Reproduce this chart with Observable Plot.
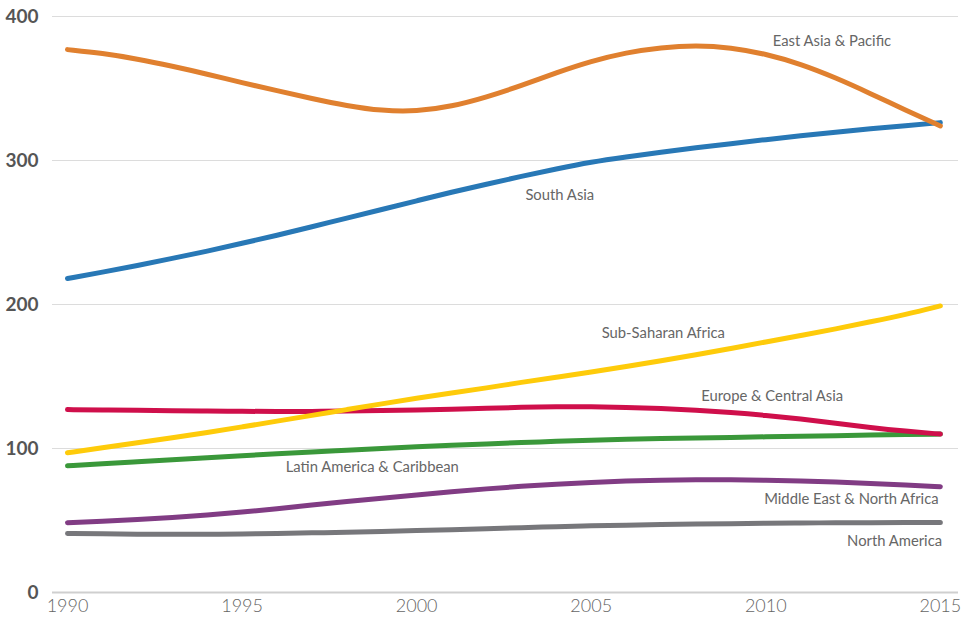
<!DOCTYPE html>
<html>
<head>
<meta charset="utf-8">
<script src="https://cdn.jsdelivr.net/npm/d3@7"></script>
<script src="https://cdn.jsdelivr.net/npm/@observablehq/plot@0.6"></script>
<style>
  html, body { margin: 0; padding: 0; background: #fff; }
  #chart { width: 964px; height: 618px; }
  svg { font-family: Lato, "Noto Sans", sans-serif; }
</style>
</head>
<body>
<div id="chart"></div>
<script>
const years = d3.range(1990, 2016);

const eastAsiaPacific = [377, 374.5, 370.5, 365.5, 360, 354, 348.5, 343, 338, 334.5, 334, 337.5, 344, 352, 361, 369, 375, 378.5, 380, 378.5, 374, 367, 357.5, 346.5, 335, 324];
const southAsia = [218, 222.5, 227, 232, 237, 242.5, 248, 254, 260, 266, 272, 278, 283.5, 289, 294.2, 299, 302.5, 305.8, 308.8, 311.7, 314.5, 317.2, 319.7, 322, 324.2, 326.3];
const subSaharanAfrica = [97, 100.5, 104, 107.5, 111, 115, 119, 123, 127, 131, 135, 138.5, 142, 146, 149.5, 153, 157, 161, 165, 169.5, 174, 178.5, 183, 188, 193, 199];
const europeCentralAsia = [127, 126.8, 126.5, 126.3, 126, 125.8, 125.7, 125.7, 126, 126.3, 126.7, 127.3, 128, 128.6, 129, 129, 128.6, 127.8, 126.6, 125, 123, 120.5, 117.5, 114.5, 112, 110];
const latinAmerica = [88, 89.5, 90.8, 92.2, 93.6, 95, 96.3, 97.6, 98.8, 100, 101.2, 102.2, 103.2, 104.1, 105, 105.8, 106.4, 106.9, 107.3, 107.7, 108.1, 108.5, 108.9, 109.3, 109.7, 110];
const middleEastNorthAfrica = [48.5, 49.5, 50.6, 52, 53.7, 55.8, 58.2, 60.7, 63.2, 65.5, 67.8, 70, 72, 73.8, 75.3, 76.5, 77.4, 78, 78.3, 78.3, 78, 77.5, 76.7, 75.7, 74.6, 73.5];
const northAmerica = [41, 40.7, 40.5, 40.4, 40.4, 40.6, 41, 41.4, 41.9, 42.4, 43, 43.6, 44.3, 45, 45.7, 46.3, 46.8, 47.2, 47.5, 47.8, 48.1, 48.3, 48.4, 48.5, 48.6, 48.6];

const seriesNames = ["North America", "Middle East & North Africa", "Latin America & Caribbean", "Europe & Central Asia", "Sub-Saharan Africa", "South Asia", "East Asia & Pacific"];
const seriesValues = [northAmerica, middleEastNorthAfrica, latinAmerica, europeCentralAsia, subSaharanAfrica, southAsia, eastAsiaPacific];
const seriesColors = ["#77777b", "#813c84", "#3a983a", "#cf0f4b", "#fecb0a", "#2878b6", "#e0802f"];

// label anchors in data space
const labelNames = ["East Asia & Pacific", "South Asia", "Sub-Saharan Africa", "Europe & Central Asia", "Latin America & Caribbean", "Middle East & North Africa", "North America"];
const labelYears = [2010.2, 2004.1, 2005.3, 2008.15, 1996.25, 2014.95, 2015.05];
const labelValues = [383, 276, 180, 136, 87, 64.5, 35.5];
const labelAnchors = ["start", "middle", "start", "start", "start", "end", "end"];

const yTicks = [0, 100, 200, 300, 400];
const xTicks = [1990, 1995, 2000, 2005, 2010, 2015];

const rows = [];
seriesNames.forEach((name, i) => {
  years.forEach((yr, j) => rows.push({series: name, year: yr, value: seriesValues[i][j]}));
});
const labels = labelNames.map((t, i) => ({text: t, year: labelYears[i], value: labelValues[i], anchor: labelAnchors[i]}));

const chart = Plot.plot({
  width: 964,
  height: 618,
  marginLeft: 52,
  marginRight: 6,
  marginTop: 16,
  marginBottom: 26,
  x: {domain: [1989.57, 2015.52], ticks: xTicks, tickFormat: d => String(d), label: null},
  y: {domain: [0, 400], ticks: yTicks, label: null},
  color: {domain: seriesNames, range: seriesColors},
  marks: [
    Plot.ruleY(yTicks.filter(d => d > 0), {stroke: "#dcdcdc", strokeWidth: 1}),
    Plot.ruleY([0], {stroke: "#cfcfcf", strokeWidth: 2}),
    Plot.axisY({ticks: yTicks, tickSize: 0, tickPadding: 14, fontSize: 19, fontWeight: "bold", fill: "#555", tickFormat: d => String(d)}),
    Plot.axisX({ticks: xTicks, tickSize: 0, tickPadding: 7, fontSize: 18, fontWeight: 300, fill: "#666", tickFormat: d => String(d)}),
    ...seriesNames.map(name => Plot.line(rows.filter(r => r.series === name), {
      x: "year", y: "value", stroke: seriesColors[seriesNames.indexOf(name)], strokeWidth: 5, curve: "basis", strokeLinecap: "round"
    })),
    ...["start", "middle", "end"].map(a => Plot.text(labels.filter(l => l.anchor === a), {
      x: "year", y: "value", text: "text", textAnchor: a, fontSize: 14.8, fill: "#666"
    }))
  ]
});
document.getElementById("chart").appendChild(chart);
</script>
</body>
</html>
